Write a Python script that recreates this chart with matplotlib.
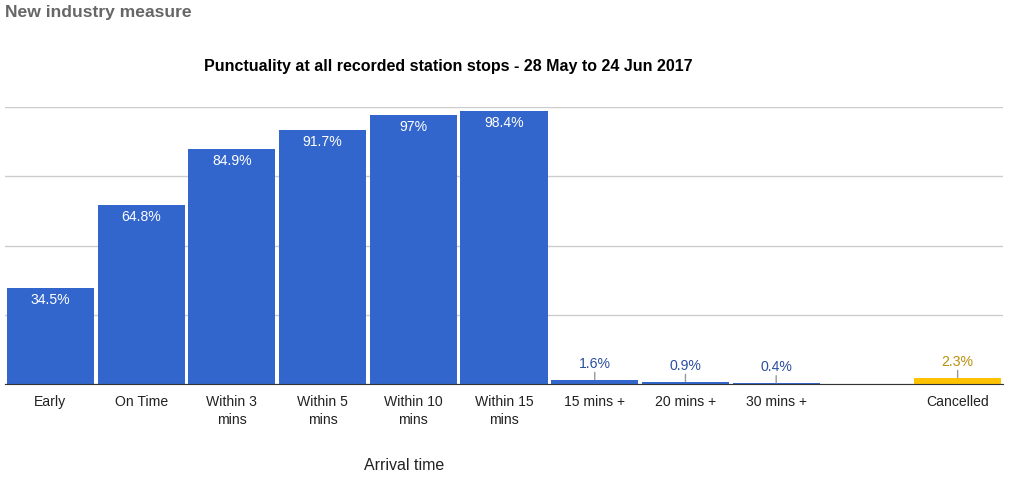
import matplotlib.pyplot as plt
import numpy as np

plt.rcParams['font.family'] = ['Liberation Sans', 'DejaVu Sans']

#%% data
categories = ['Early', 'On Time', 'Within 3\nmins', 'Within 5\nmins', 'Within 10\nmins',
              'Within 15\nmins', '15 mins +', '20 mins +', '30 mins +', '', 'Cancelled']
values     = [34.5, 64.8, 84.9, 91.7, 97.0, 98.4, 1.6, 0.9, 0.4, np.nan, 2.3]
labels     = ['34.5%', '64.8%', '84.9%', '91.7%', '97%', '98.4%', '1.6%', '0.9%', '0.4%', '', '2.3%']

blue   = '#3366cc'
yellow = '#ffc200'
colors = [blue]*10 + [yellow]

def px(p):
    # pixel size -> points at dpi 100
    return p*0.72

#%% figure
fig = plt.figure(figsize=(10.21, 4.89), dpi=100)
ax  = fig.add_axes([5/1021, 104/489, 998/1021, 277/489])

x = np.arange(len(categories))
vals = np.nan_to_num(values)
ax.bar(x, vals, width=0.96, color=colors, zorder=3)

ax.set_xlim(-0.5, len(categories)-0.5)
ax.set_ylim(0, 100)
ax.set_yticks([0, 25, 50, 75, 100])
ax.yaxis.grid(True, color='#cccccc', lw=1, zorder=0)
ax.tick_params(axis='y', left=False, labelleft=False)
ax.tick_params(axis='x', bottom=False, labelsize=px(14), labelcolor='#222222', pad=4)
ax.set_xticks(x)
ax.set_xticklabels(categories, linespacing=1.3, va='top')
for s in ['top', 'right', 'left']:
    ax.spines[s].set_visible(False)
ax.spines['bottom'].set_color('#333333')
ax.spines['bottom'].set_zorder(4)

# value labels
for i, (v, lab) in enumerate(zip(values, labels)):
    if np.isnan(v):
        continue
    if v > 20:
        ax.annotate(lab, (i, v), xytext=(0, -11), textcoords='offset pixels',
                    ha='center', va='center', color='white', fontsize=px(14), zorder=5)
    else:
        c = '#b8900a' if colors[i] == yellow else '#2a4ea0'
        ax.annotate(lab, xy=(i, v), xytext=(0, 17), textcoords='offset pixels',
                    ha='center', va='center', color=c, fontsize=px(14), zorder=5,
                    arrowprops=dict(arrowstyle='-', color='#999999', lw=1,
                                    shrinkA=6, shrinkB=0))

fig.text(5/1021, 1-12/489, 'New industry measure', fontsize=px(17.5), fontweight='bold',
         color='#666666', ha='left', va='center')
fig.text(448/1021, 1-67/489, 'Punctuality at all recorded station stops - 28 May to 24 Jun 2017',
         fontsize=px(16), fontweight='bold', color='black', ha='center', va='center')
fig.text(404/1021, 1-466/489, 'Arrival time', fontsize=px(16), color='#222222',
         ha='center', va='center')

fig.savefig('out.png', dpi=100)
